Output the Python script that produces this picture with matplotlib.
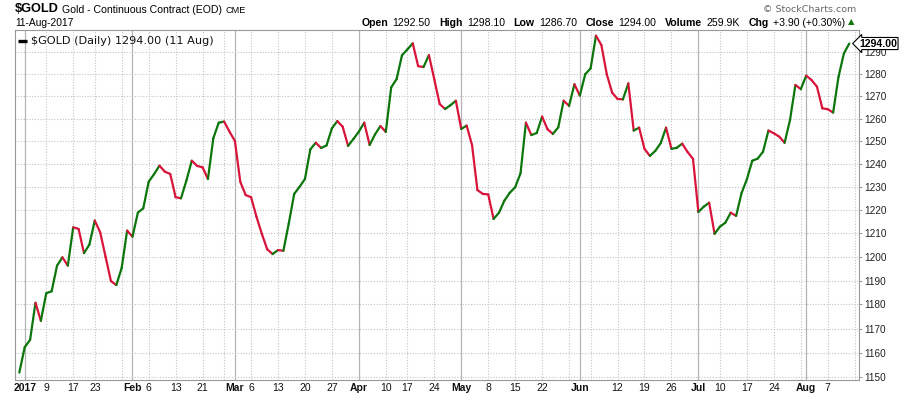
import numpy as np
import pandas as pd
import matplotlib
matplotlib.use('Agg')
import matplotlib.pyplot as plt
from matplotlib.collections import LineCollection
from matplotlib.ticker import FixedLocator, NullLocator
import matplotlib.transforms as mtransforms

# trading days (Dec 30 2016 .. Aug 11 2017), exchange holidays removed
holidays = pd.to_datetime(['2017-01-02', '2017-01-16', '2017-02-20', '2017-04-14',
                           '2017-05-29', '2017-07-04'])
axis_days = pd.bdate_range('2016-12-30', '2017-08-18')
axis_days = axis_days[~axis_days.isin(holidays)]

close = [1151.9, 1162.3, 1165.3, 1180.7, 1173.2, 1184.7, 1185.5, 1196.3, 1199.8, 1196.3,
         1212.6, 1211.9, 1201.6, 1205.2, 1215.5, 1210.5, 1200.1, 1189.8, 1188.1, 1195.4,
         1211.2, 1208.6, 1218.9, 1220.8, 1232.3, 1235.6, 1239.3,
         1236.7, 1235.7, 1225.6, 1225.1, 1232.8, 1241.5, 1239.2, 1238.6, 1233.5, 1251.4,
         1258.3, 1258.8, 1254.3, 1250.2, 1232.3, 1226.5, 1225.6, 1217.2, 1209.8, 1203.2,
         1201.2, 1202.9, 1202.6, 1214.3, 1227.0, 1230.1,
         1233.5, 1246.5, 1249.4, 1247.1, 1248.2, 1255.8, 1259.0, 1256.5, 1248.0, 1251.1,
         1254.3, 1258.3, 1248.4, 1253.1, 1256.8, 1254.2, 1274.1, 1277.8, 1288.6, 1291.3,
         1294.1, 1283.7, 1283.3, 1288.7, 1277.7, 1266.6,
         1264.4, 1266.1, 1268.1, 1255.5, 1257.0, 1248.4, 1228.7, 1227.0, 1226.8, 1216.2,
         1218.9, 1224.1, 1227.5, 1229.9, 1236.0, 1258.3, 1252.8, 1253.7, 1261.0, 1255.4,
         1253.3, 1256.2, 1268.1, 1265.8, 1275.5, 1270.4,
         1280.0, 1282.7, 1297.6, 1293.3, 1280.0, 1271.7, 1268.9, 1268.7, 1275.9, 1254.8,
         1256.1, 1246.7, 1243.6, 1245.8, 1249.2, 1256.1, 1246.7, 1247.2, 1249.0, 1245.3,
         1242.3, 1219.2, 1221.5, 1223.2, 1209.8, 1212.9,
         1214.6, 1218.9, 1217.5, 1227.3, 1233.4, 1241.5, 1242.4, 1245.5, 1254.8, 1253.6,
         1252.1, 1249.4, 1259.5, 1275.2, 1273.3, 1279.4, 1277.4, 1274.4, 1264.7, 1264.3,
         1262.8, 1278.9, 1289.5, 1294.0]

tick_dates = ['2017-01-03', '2017-01-09', '2017-01-17', '2017-01-23', '2017-02-01', '2017-02-06',
              '2017-02-13', '2017-02-21', '2017-03-01', '2017-03-06', '2017-03-13', '2017-03-20',
              '2017-03-27', '2017-04-03', '2017-04-10', '2017-04-17', '2017-04-24', '2017-05-01',
              '2017-05-08', '2017-05-15', '2017-05-22', '2017-06-01', '2017-06-12', '2017-06-19',
              '2017-06-26', '2017-07-03', '2017-07-10', '2017-07-17', '2017-07-24', '2017-08-01',
              '2017-08-07']
tick_labels = ['2017', '9', '17', '23', 'Feb', '6', '13', '21', 'Mar', '6', '13', '20', '27',
               'Apr', '10', '17', '24', 'May', '8', '15', '22', 'Jun', '12', '19', '26',
               'Jul', '10', '17', '24', 'Aug', '7']
month_names = ['2017', 'Feb', 'Mar', 'Apr', 'May', 'Jun', 'Jul', 'Aug']
y_ticks = list(range(1150, 1300, 10))

header_left = ['$GOLD', 'Gold - Continuous Contract (EOD)', 'CME']
header_date = '11-Aug-2017'
header_right = [('Open', '1292.50'), ('High', '1298.10'), ('Low', '1286.70'),
                ('Close', '1294.00'), ('Volume', '259.9K'), ('Chg', '+3.90 (+0.30%)')]
legend_text = '$GOLD (Daily) 1294.00 (11 Aug)'
last_label = '1294.00'

GREEN = '#0c760c'
RED = '#d8143a'
W, H = 900, 396

fig = plt.figure(figsize=(9, 3.96), dpi=100, facecolor='white')
ax = fig.add_axes([15 / W, 1 - 380 / H, (859 - 15) / W, 350 / H])
ax.set_facecolor('white')

x = np.arange(len(close))
y = np.array(close)
pts = np.column_stack([x, y]).reshape(-1, 1, 2)
segs = np.concatenate([pts[:-1], pts[1:]], axis=1)
cols = [GREEN if d > 0 else RED for d in np.diff(y)]
lc = LineCollection(segs, colors=cols, linewidths=1.6, capstyle='round', joinstyle='round', zorder=3)
ax.add_collection(lc)

ax.set_yscale('log')
ax.set_ylim(1148.9, 1300.2)
ax.set_xlim(-0.8, 155.8)

ax.yaxis.set_major_locator(FixedLocator(y_ticks))
ax.yaxis.set_minor_locator(NullLocator())
ax.set_yticklabels([str(v) for v in y_ticks])
ax.yaxis.tick_right()
ax.tick_params(axis='y', which='major', length=2, width=0.6, color='#888888', pad=1.5,
               labelsize=7.2, labelcolor='#222222')
for lab in ax.get_yticklabels():
    lab.set_fontfamily('Liberation Sans')

ax.yaxis.grid(True, color='#c4c4c4', linestyle=(0, (1, 1.5)), linewidth=0.8)

# x gridlines: first trading day of each week and of each month
pos = pd.Series(np.arange(len(axis_days)), index=axis_days)
week_first = pos.groupby(axis_days.to_period('W')).first()
month_first = pos.groupby(axis_days.to_period('M')).first()
for p in week_first.values:
    if p >= 1 and p not in month_first.values:
        ax.axvline(p, color='#c4c4c4', linestyle=(0, (1, 1.5)), linewidth=0.8, zorder=1)
for p in month_first.values:
    if p >= 1:
        ax.axvline(p, color='#b4b4b4', linewidth=0.9, zorder=1)

tick_pos = [pos[pd.Timestamp(d)] for d in tick_dates]
ax.set_xticks(tick_pos)
ax.set_xticklabels(tick_labels)
ax.tick_params(axis='x', length=0, pad=2.5, labelsize=7.5, labelcolor='#111111')
for lab in ax.get_xticklabels():
    lab.set_fontfamily('Liberation Sans')
    if lab.get_text() in month_names:
        lab.set_fontweight('bold')

for s in ax.spines.values():
    s.set_color('#999999')
    s.set_linewidth(0.8)

# legend inside the plot
ax.plot([0.003, 0.0145], [0.97, 0.97], transform=ax.transAxes, color='black', lw=2.4,
        solid_capstyle='butt', clip_on=False)
ax.text(0.019, 0.97, legend_text, transform=ax.transAxes, fontsize=8.1, va='center',
        ha='left', family='DejaVu Sans', color='#111111')

# last value marker on the right axis
trans = mtransforms.blended_transform_factory(ax.transAxes, ax.transData)
ax.text(1.0, close[-1], last_label, transform=trans, ha='left', va='center', fontsize=7.6,
        fontweight='bold', family='Liberation Sans', zorder=5,
        bbox=dict(boxstyle='larrow,pad=0.1', fc='white', ec='black', lw=0.8))

# header texts
fig.canvas.draw()
r = fig.canvas.get_renderer()


def put(px, py, s, **kw):
    t = fig.text(px / W, 1 - py / H, s, va='center', ha='left', **kw)
    return t.get_window_extent(r).width


xp = 15
xp += put(xp, 9.5, header_left[0], fontsize=9.2, fontweight='bold', family='Liberation Sans')
xp += 3
xp += put(xp, 10, header_left[1], fontsize=7.6, family='Liberation Sans')
xp += 4
put(xp, 10.5, header_left[2], fontsize=6.6, family='Liberation Sans')

put(15, 22.5, header_date, fontsize=7.4, family='Liberation Sans')

# right header, laid out from its measured width so that it ends near x=845
widths = []
for lbl, val in header_right:
    t1 = fig.text(0, 0, lbl, fontsize=7.6, fontweight='bold', family='Liberation Sans')
    t2 = fig.text(0, 0, val, fontsize=7.6, family='Liberation Sans')
    widths.append((t1.get_window_extent(r).width, t2.get_window_extent(r).width))
    t1.remove()
    t2.remove()
gap_in, gap_out = 4, 9
total = sum(a + b for a, b in widths) + gap_in * len(widths) + gap_out * (len(widths) - 1)
xp = 845 - total
for (lbl, val), (w1, w2) in zip(header_right, widths):
    put(xp, 22.5, lbl, fontsize=7.6, fontweight='bold', family='Liberation Sans')
    xp += w1 + gap_in
    put(xp, 22.5, val, fontsize=7.6, family='Liberation Sans')
    xp += w2 + gap_out
put(848, 21.5, '\u25b2', fontsize=6, color=GREEN, family='DejaVu Sans')

fig.text(856 / W, 1 - 9.5 / H, '\u00a9 StockCharts.com', ha='right', va='center', fontsize=6.8,
         color='#666666', family='DejaVu Sans')

plt.savefig('out.png', dpi=100, facecolor='white')
